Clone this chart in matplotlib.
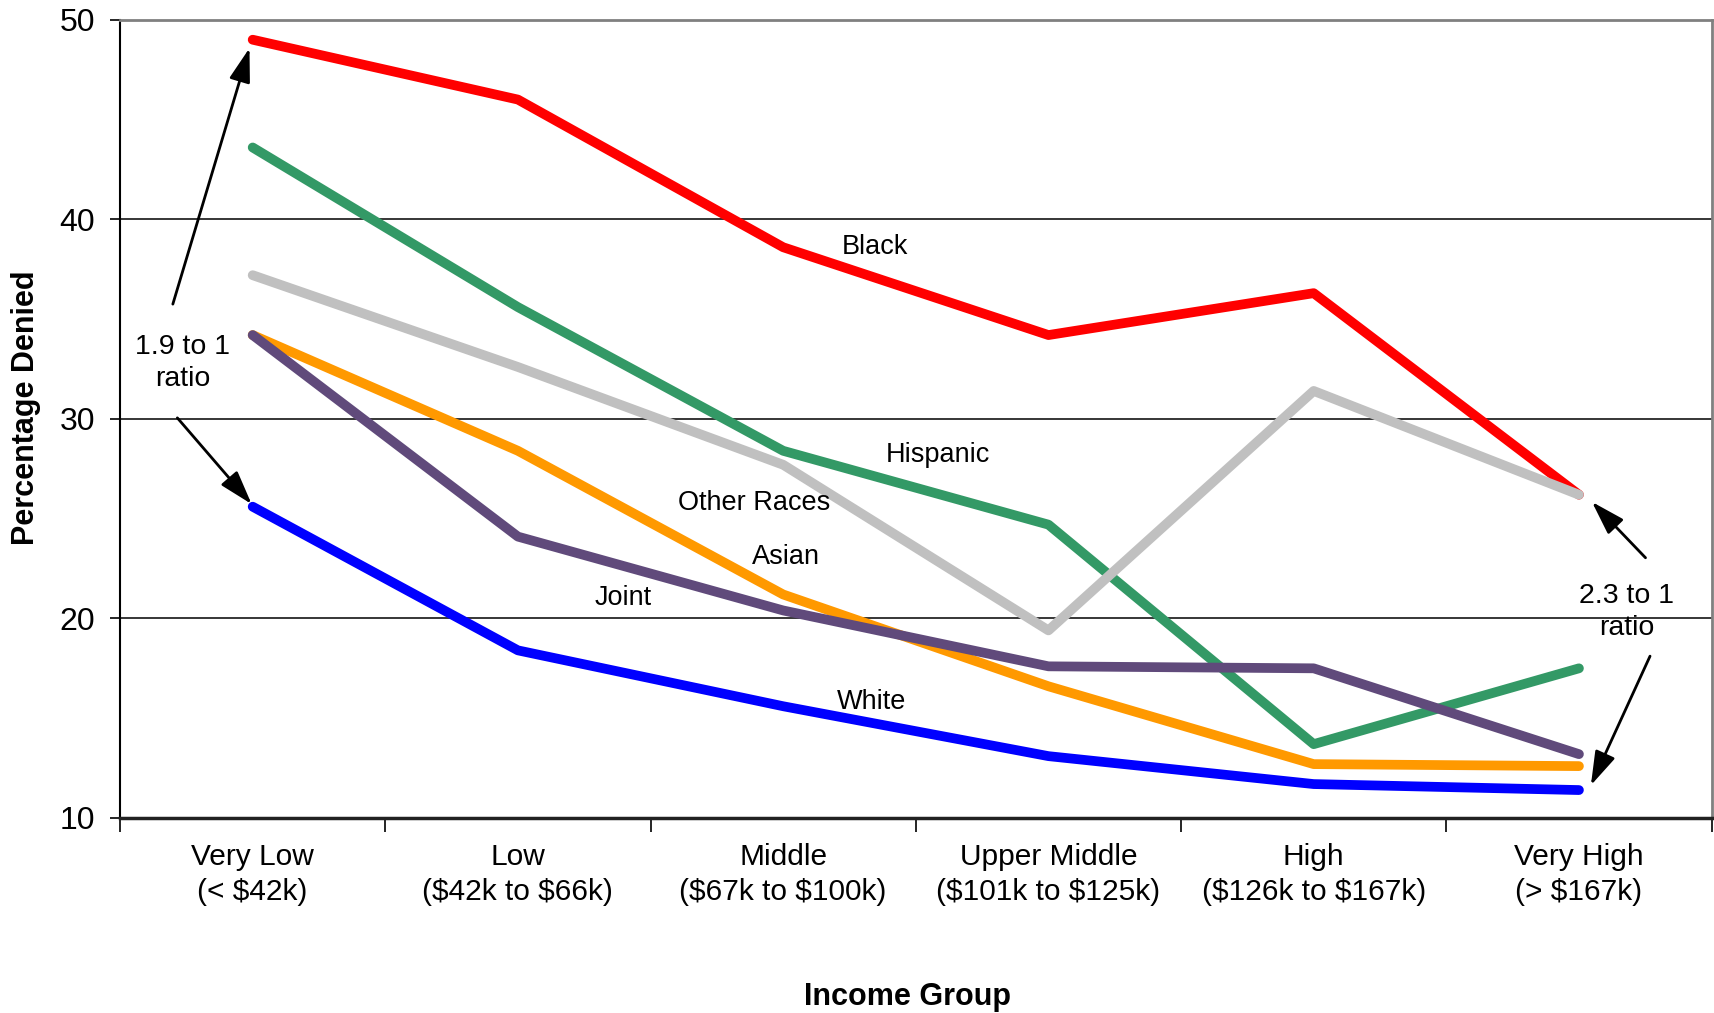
#!/usr/bin/env python3
"""
Mortgage denial rates by income group and race
"""

import matplotlib
matplotlib.use('Agg')
import matplotlib.pyplot as plt
import numpy as np

# Data
GROUPS = ['Very Low\n(< \\$42k)', 'Low\n(\\$42k to \\$66k)', 'Middle\n(\\$67k to \\$100k)',
          'Upper Middle\n(\\$101k to \\$125k)', 'High\n(\\$126k to \\$167k)', 'Very High\n(> \\$167k)']
WHITE = [25.6, 18.4, 15.6, 13.1, 11.7, 11.4]
BLACK = [49.0, 46.0, 38.6, 34.2, 36.3, 26.2]
HISPANIC = [43.6, 35.6, 28.4, 24.7, 13.7, 17.5]
ASIAN = [34.2, 28.4, 21.2, 16.6, 12.7, 12.6]
JOINT = [34.2, 24.1, 20.4, 17.6, 17.5, 13.2]
OTHER = [37.2, 32.6, 27.7, 19.4, 31.4, 26.2]
Y_TICKS = [10, 20, 30, 40, 50]

# Plot settings
FONT = 'Liberation Sans'
LINE_WIDTH = 7
TICK_SIZE = 21.5
YTICK_SIZE = 23
LABEL_SIZE = 19.5
RATIO_SIZE = 20.5
AXIS_LABEL_SIZE = 22

plt.rcParams['font.family'] = [FONT, 'DejaVu Sans']


def main():
    fig = plt.figure(figsize=(17.15, 10.13), dpi=100)
    ax = fig.add_axes([0.070, 0.1925, 0.928, 0.788])

    x = np.arange(len(GROUPS))

    # Series, bottom to top
    series = [
        (WHITE, '#0000FF'),
        (BLACK, '#FF0000'),
        (HISPANIC, '#339966'),
        (ASIAN, '#FF9900'),
        (JOINT, '#604A7B'),
        (OTHER, '#C0C0C0'),
    ]
    for vals, color in series:
        ax.plot(x, vals, color=color, linewidth=LINE_WIDTH, solid_capstyle='round',
                solid_joinstyle='round', zorder=3)

    # Axes limits and grid
    ax.set_xlim(-0.5, len(GROUPS) - 0.5)
    ax.set_ylim(10, 50)
    ax.set_yticks(Y_TICKS)
    for yv in Y_TICKS[1:-1]:
        ax.axhline(yv, color='black', linewidth=1.1, zorder=1)

    # Spines
    ax.spines['left'].set_color('black')
    ax.spines['left'].set_linewidth(1.5)
    ax.spines['bottom'].set_color('#222222')
    ax.spines['bottom'].set_linewidth(2.5)
    ax.spines['top'].set_color('#808080')
    ax.spines['top'].set_linewidth(2)
    ax.spines['right'].set_color('#808080')
    ax.spines['right'].set_linewidth(2)

    # Ticks
    ax.tick_params(axis='y', direction='out', length=7, width=1.2,
                   labelsize=YTICK_SIZE, pad=11)
    ax.set_xticks(x)
    ax.set_xticklabels(GROUPS, fontsize=TICK_SIZE, linespacing=1.3)
    ax.tick_params(axis='x', which='major', length=0, pad=18)
    ax.set_xticks(np.arange(-0.5, len(GROUPS)), minor=True)
    ax.tick_params(axis='x', which='minor', direction='out', length=10, width=1.2)

    # Series labels
    ax.text(2.345, 38.6, 'Black', fontsize=LABEL_SIZE, ha='center', va='center')
    ax.text(2.585, 28.2, 'Hispanic', fontsize=LABEL_SIZE, ha='center', va='center')
    ax.text(1.892, 25.8, 'Other Races', fontsize=LABEL_SIZE, ha='center', va='center')
    ax.text(2.011, 23.1, 'Asian', fontsize=LABEL_SIZE, ha='center', va='center')
    ax.text(1.397, 21.0, 'Joint', fontsize=LABEL_SIZE, ha='center', va='center')
    ax.text(2.333, 15.8, 'White', fontsize=LABEL_SIZE, ha='center', va='center')

    # Ratio annotations
    arrow = dict(arrowstyle='-|>,head_length=0.8,head_width=0.25', color='black',
                 linewidth=2, mutation_scale=26, shrinkA=0, shrinkB=0)
    ax.text(-0.264, 32.8, '1.9 to 1\nratio', fontsize=RATIO_SIZE, ha='center',
            va='center', linespacing=1.3)
    ax.annotate('', xy=(-0.012, 48.58), xytext=(-0.301, 35.75), arrowprops=arrow)
    ax.annotate('', xy=(-0.004, 25.73), xytext=(-0.284, 30.05), arrowprops=arrow)
    ax.text(5.181, 20.3, '2.3 to 1\nratio', fontsize=RATIO_SIZE, ha='center',
            va='center', linespacing=1.3)
    ax.annotate('', xy=(5.049, 25.84), xytext=(5.251, 23.04), arrowprops=arrow)
    ax.annotate('', xy=(5.045, 11.64), xytext=(5.268, 18.11), arrowprops=arrow)

    # Axis titles
    fig.text(0.015, 0.598, 'Percentage Denied', rotation=90, ha='center', va='center',
             fontsize=AXIS_LABEL_SIZE, fontweight='bold')
    fig.text(0.529, 0.016, 'Income Group', ha='center', va='center',
             fontsize=AXIS_LABEL_SIZE, fontweight='bold')

    fig.savefig('out.png', dpi=100)
    plt.close(fig)


if __name__ == '__main__':
    main()
